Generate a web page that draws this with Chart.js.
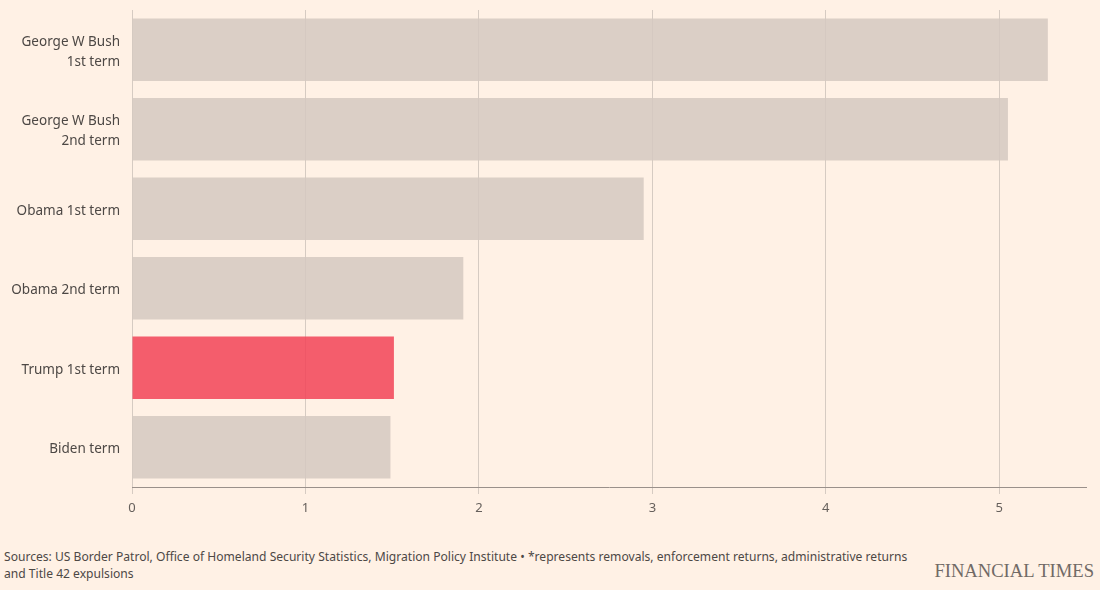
<!DOCTYPE html>
<html>
<head>
<meta charset="utf-8">
<script src="https://cdn.jsdelivr.net/npm/chart.js@4/dist/chart.umd.min.js"></script>
<style>
  body { margin: 0; background: #fff1e5; width: 1100px; height: 590px; position: relative; overflow: hidden; }
  #wrap { position: absolute; left: 0; top: 0; width: 1100px; height: 520px; }
  #source { position: absolute; left: 4px; top: 548px; font-family: "Noto Sans", sans-serif; font-size: 12.1px; line-height: 17px; color: #4d4845; }
  #ft { position: absolute; right: 6px; top: 560px; font-family: "Liberation Serif", serif; font-size: 18.6px; color: #716a66; }
</style>
</head>
<body>
<div id="wrap"><canvas id="myChart"></canvas></div>
<div id="source">Sources: US Border Patrol, Office of Homeland Security Statistics, Migration Policy Institute &bull; *represents removals, enforcement returns, administrative returns<br>and Title 42 expulsions</div>
<div id="ft">FINANCIAL TIMES</div>
<script>
let termLabels = [
    ["George W Bush", "1st term"],
    ["George W Bush", "2nd term"],
    "Obama 1st term",
    "Obama 2nd term",
    "Trump 1st term",
    "Biden term"
];
let totals = [5.28, 5.05, 2.95, 1.91, 1.51, 1.49];
let barColors = [
    "rgba(213,201,193,0.85)",
    "rgba(213,201,193,0.85)",
    "rgba(213,201,193,0.85)",
    "rgba(213,201,193,0.85)",
    "rgba(242,67,87,0.85)",
    "rgba(213,201,193,0.85)"
];
let xTicks = [0, 1, 2, 3, 4, 5];

const config = () => {
    var myBarChart = new Chart(document.getElementById('myChart'), {
        type: 'bar',
        data: {
            labels: termLabels,
            datasets: [{
                data: totals,
                backgroundColor: barColors,
                categoryPercentage: 1,
                barPercentage: 0.785
            }]
        },
        options: {
            indexAxis: 'y',
            responsive: true,
            maintainAspectRatio: false,
            animation: false,
            layout: { padding: { top: 10, right: 14, left: 0, bottom: 0 } },
            plugins: { legend: { display: false }, tooltip: { enabled: false } },
            scales: {
                x: {
                    min: 0,
                    max: 5.5,
                    afterFit: (scale) => {
                        scale.height = 33
                        scale.paddingLeft = 0
                        scale.paddingRight = 0
                    },
                    afterBuildTicks: (scale) => { scale.ticks = xTicks.map(v => ({ value: v })) },
                    grid: { color: "#d6cbc2", tickLength: 7 },
                    border: { display: true, color: "#9a908a" },
                    ticks: { color: "#66605c", padding: 6, font: { family: "Noto Sans", size: 13 } }
                },
                y: {
                    afterFit: (scale) => {
                        scale.width = 132
                        scale.paddingTop = 0
                        scale.paddingBottom = 0
                    },
                    grid: { display: false, drawTicks: false },
                    border: { display: false },
                    ticks: { color: "#4d4845", padding: 12, labelOffset: 2, font: { family: "Noto Sans", size: 13.5, lineHeight: 1.48 } }
                }
            }
        }
    });
};
config();
</script>
</body>
</html>
